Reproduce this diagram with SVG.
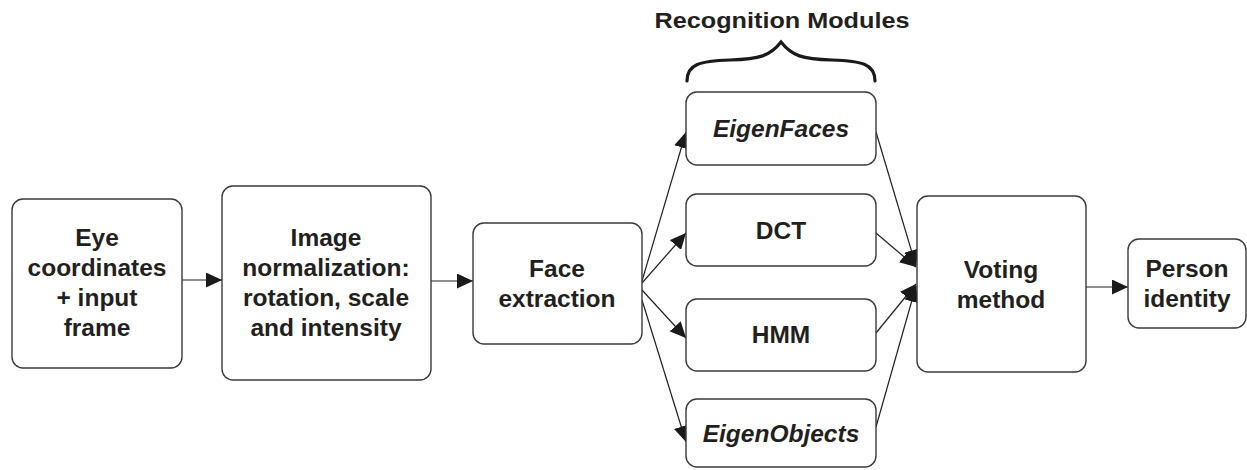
<svg xmlns="http://www.w3.org/2000/svg" width="1247" height="470" viewBox="0 0 1247 470">
<defs>
<marker id="ah" markerWidth="16" markerHeight="15" refX="16" refY="7.5" orient="auto" markerUnits="userSpaceOnUse">
<path d="M0,0 L16,7.5 L0,15 Z" fill="#1a1a1a"/>
</marker>
<style>
.box{fill:#fff;stroke:#3a3a3a;stroke-width:1.4}
.t{font-family:"Liberation Sans",Arial,sans-serif;font-weight:bold;font-size:24.5px;fill:#231f20;text-anchor:middle}
.i{font-style:italic}
.c{fill:none;stroke:#231f20;stroke-width:1.2}
</style>
</defs>
<rect width="1247" height="470" fill="#fff"/>
<g id="connectors">
<line class="c" x1="182" y1="280" x2="222" y2="280" marker-end="url(#ah)"/>
<line class="c" x1="431" y1="281" x2="473" y2="281" marker-end="url(#ah)"/>
<line class="c" x1="642" y1="281" x2="686" y2="132" marker-end="url(#ah)"/>
<line class="c" x1="642" y1="283" x2="686" y2="233" marker-end="url(#ah)"/>
<line class="c" x1="642" y1="290" x2="686" y2="338" marker-end="url(#ah)"/>
<line class="c" x1="642" y1="300" x2="686" y2="442" marker-end="url(#ah)"/>
<line class="c" x1="876" y1="132" x2="916" y2="266" marker-end="url(#ah)"/>
<line class="c" x1="876" y1="233" x2="916" y2="267" marker-end="url(#ah)"/>
<line class="c" x1="876" y1="333" x2="916" y2="284" marker-end="url(#ah)"/>
<line class="c" x1="876" y1="427" x2="916" y2="286" marker-end="url(#ah)"/>
<line class="c" x1="1086" y1="287" x2="1128" y2="287" marker-end="url(#ah)"/>
</g>
<g id="brace">
<path d="M687,81 C687,64 700,61 730,60 C760,59 770,56 781,42 C792,56 802,59 832,60 C862,61 875,64 875,81" fill="none" stroke="#1a1a1a" stroke-width="3.2" stroke-linecap="round"/>
<text class="t" x="782" y="28" style="font-size:22.5px" textLength="255" lengthAdjust="spacingAndGlyphs">Recognition Modules</text>
</g>
<g id="eye">
<rect class="box" x="12" y="199" width="170" height="169" rx="11"/>
<text class="t" x="97" y="246">Eye</text>
<text class="t" x="97" y="276">coordinates</text>
<text class="t" x="97" y="306">+ input</text>
<text class="t" x="97" y="336">frame</text>
</g>
<g id="norm">
<rect class="box" x="222" y="186" width="209" height="194" rx="11"/>
<text class="t" x="326" y="246">Image</text>
<text class="t" x="326" y="276">normalization:</text>
<text class="t" x="326" y="306">rotation, scale</text>
<text class="t" x="326" y="336">and intensity</text>
</g>
<g id="face">
<rect class="box" x="473" y="223" width="169" height="121" rx="11"/>
<text class="t" x="557" y="277">Face</text>
<text class="t" x="557" y="307">extraction</text>
</g>
<g id="eigenfaces">
<rect class="box" x="686" y="92" width="190" height="73" rx="11"/>
<text class="t i" x="781" y="137">EigenFaces</text>
</g>
<g id="dct">
<rect class="box" x="686" y="194" width="190" height="72" rx="11"/>
<text class="t" x="781" y="239">DCT</text>
</g>
<g id="hmm">
<rect class="box" x="686" y="299" width="190" height="72" rx="11"/>
<text class="t" x="781" y="343">HMM</text>
</g>
<g id="eigenobjects">
<rect class="box" x="686" y="399" width="190" height="68" rx="11"/>
<text class="t i" x="781" y="442">EigenObjects</text>
</g>
<g id="voting">
<rect class="box" x="917" y="196" width="169" height="176" rx="11"/>
<text class="t" x="1001" y="278">Voting</text>
<text class="t" x="1001" y="308">method</text>
</g>
<g id="person">
<rect class="box" x="1128" y="239" width="118" height="89" rx="11"/>
<text class="t" x="1187" y="277">Person</text>
<text class="t" x="1187" y="307">identity</text>
</g>
</svg>
